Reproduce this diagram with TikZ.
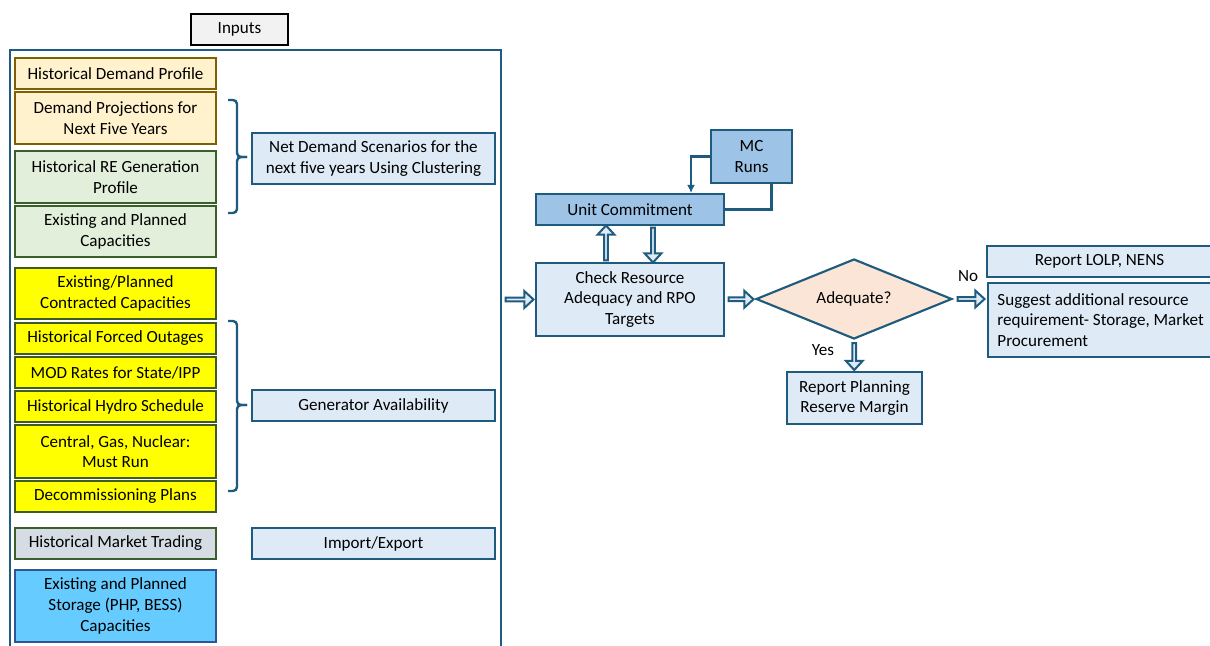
\documentclass[tikz,border=0pt]{standalone}
\usepackage{fontspec}
\setmainfont{Carlito}
\usetikzlibrary{shapes.geometric,shapes.arrows,calc,arrows.meta}
\definecolor{demfill}{HTML}{FFF2CC}
\definecolor{demdraw}{HTML}{7F6000}
\definecolor{refill}{HTML}{E2EFDA}
\definecolor{redraw}{HTML}{3B5F2A}
\definecolor{yelfill}{HTML}{FFFF00}
\definecolor{yeldraw}{HTML}{3F5A22}
\definecolor{mktfill}{HTML}{D6DCE4}
\definecolor{stofill}{HTML}{66CCFF}
\definecolor{stodraw}{HTML}{2F5597}
\definecolor{lbfill}{HTML}{DEEBF7}
\definecolor{bdraw}{HTML}{1E5B7E}
\definecolor{mbfill}{HTML}{9DC3E6}
\definecolor{dmfill}{HTML}{FBE5D6}
\definecolor{inpfill}{HTML}{F2F2F2}
\newcommand\bx[7]{\node[#6, minimum width={(#4-#2)*0.75pt}, minimum height={(#5-#3)*0.75pt}] (#1) at ({(#2+#4)/2},{(#3+#5)/2}) {#7};}
\tikzset{
  base/.style={draw, line width=1.6pt, inner sep=1pt, align=center, font=\fontsize{12.8}{15.5}\selectfont},
  dem/.style={base, fill=demfill, draw=demdraw},
  reb/.style={base, fill=refill, draw=redraw},
  yel/.style={base, fill=yelfill, draw=yeldraw},
  mkt/.style={base, fill=mktfill, draw=redraw},
  sto/.style={base, fill=stofill, draw=stodraw},
  lb/.style={base, fill=lbfill, draw=bdraw},
  mb/.style={base, fill=mbfill, draw=bdraw},
  inp/.style={base, fill=inpfill, draw=black, line width=1.8pt},
  brc/.style={draw=bdraw, line width=1.8pt, rounded corners=3pt},
  conn/.style={draw=bdraw, line width=1.6pt},
  lbl/.style={font=\fontsize{12.8}{15}\selectfont, inner sep=0pt},
  barrow/.style={single arrow, draw=bdraw, fill=lbfill, line width=1.5pt, inner sep=0pt,
    minimum width=12.5pt, single arrow head extend=2.6pt, single arrow tip angle=85},
}
\begin{document}
\begin{tikzpicture}[x=0.75pt,y=-0.75pt]
\useasboundingbox (0,0) rectangle (1210,646);
% container
\node[draw=bdraw, line width=1.6pt, minimum width={491*0.75pt}, minimum height={620*0.75pt}, inner sep=0pt] (cont) at (255.5,360) {};
\bx{inputs}{191}{14}{288}{45}{inp}{Inputs}
% inputs
\bx{hdp}{15}{58}{216}{89}{dem}{Historical Demand Profile}
\bx{dpf}{15}{92}{216}{144}{dem}{Demand Projections for\\Next Five Years}
\bx{hre}{15}{151}{216}{203}{reb}{Historical RE Generation\\Profile}
\bx{epc}{15}{206}{216}{257}{reb}{Existing and Planned\\Capacities}
\bx{ecc}{15}{268}{216}{319}{yel}{Existing/Planned\\Contracted Capacities}
\bx{hfo}{15}{323}{216}{354}{yel}{Historical Forced Outages}
\bx{mod}{15}{357}{216}{388}{yel}{MOD Rates for State/IPP}
\bx{hhs}{15}{391}{216}{422}{yel}{Historical Hydro Schedule}
\bx{cgn}{15}{425}{216}{478}{yel}{Central, Gas, Nuclear:\\Must Run}
\bx{dcp}{15}{481}{216}{512}{yel}{Decommissioning Plans}
\bx{hmt}{15}{528}{216}{559}{mkt}{Historical Market Trading}
\bx{sto}{15}{570}{216}{642}{sto}{Existing and Planned\\Storage (PHP, BESS)\\Capacities}
% derived
\bx{nds}{252}{133}{495}{184}{lb}{Net Demand Scenarios for the\\next five years Using Clustering}
\bx{gav}{252}{390}{495}{421}{lb}{Generator Availability}
\bx{imx}{252}{528}{495}{559}{lb}{Import/Export}
% braces
\draw[brc] (228,100) -- (237,100) -- (237,157) -- (247,157);
\draw[brc] (247,157) -- (237,157) -- (237,213) -- (228,213);
\draw[brc] (228,321) -- (237,321) -- (237,405) -- (247,405);
\draw[brc] (247,405) -- (237,405) -- (237,491) -- (228,491);
% process
\bx{chk}{536}{263}{724}{336}{lb}{Check Resource\\Adequacy and RPO\\Targets}
\bx{uc}{536}{194}{724}{225}{mb}{Unit Commitment}
\bx{mc}{711}{130}{792}{183}{mb}{MC\\Runs}
\node[diamond, draw=bdraw, fill=dmfill, line width=1.6pt, inner sep=0pt, aspect=2.4,
  minimum width={196*0.75pt}, minimum height={80*0.75pt}, font=\fontsize{12.8}{15}\selectfont] (adq) at (854,299) {Adequate?};
\bx{lolp}{987}{246}{1212}{277}{lb}{Report LOLP, NENS}
\node[base, fill=lbfill, draw=bdraw, minimum width={225*0.75pt}, minimum height={74*0.75pt}, align=left, inner xsep=6pt, anchor=north west] (sug) at (987,282) {Suggest additional resource\\requirement- Storage, Market\\Procurement};
\bx{prm}{787}{372}{922}{424}{lb}{Report Planning\\Reserve Margin}
% labels
\node[lbl] (no) at (968,276) {No};
\node[lbl] (yes) at (823,350) {Yes};
% thin connectors
\draw[conn, -{Latex[length=6pt,width=6pt]}] (mc.west) -| ($(uc.north)+(61,0)$);
\draw[conn] ($(mc.south)+(20,0)$) |- (uc.east);
% block arrows
\node[barrow, minimum height={28*0.75pt}] (a1) at ($(cont.east |- chk.west)!0.5!(chk.west)$) {};
\node[barrow, minimum height={35*0.75pt}, shape border rotate=90] (a2) at ($(chk.north)!0.5!(uc.south)+(-24,0)$) {};
\node[barrow, minimum height={35*0.75pt}, shape border rotate=270] (a3) at ($(chk.north)!0.5!(uc.south)+(23,0)$) {};
\node[barrow, minimum height={25*0.75pt}] (a4) at ($(chk.east)!0.5!(adq.west)$) {};
\node[barrow, minimum height={27*0.75pt}] (a5) at ($(adq.east)!0.5!(adq.east -| sug.west)$) {};
\node[barrow, minimum height={27*0.75pt}, shape border rotate=270] (a6) at ($(adq.south)!0.5!(prm.north)$) {};
\end{tikzpicture}
\end{document}
